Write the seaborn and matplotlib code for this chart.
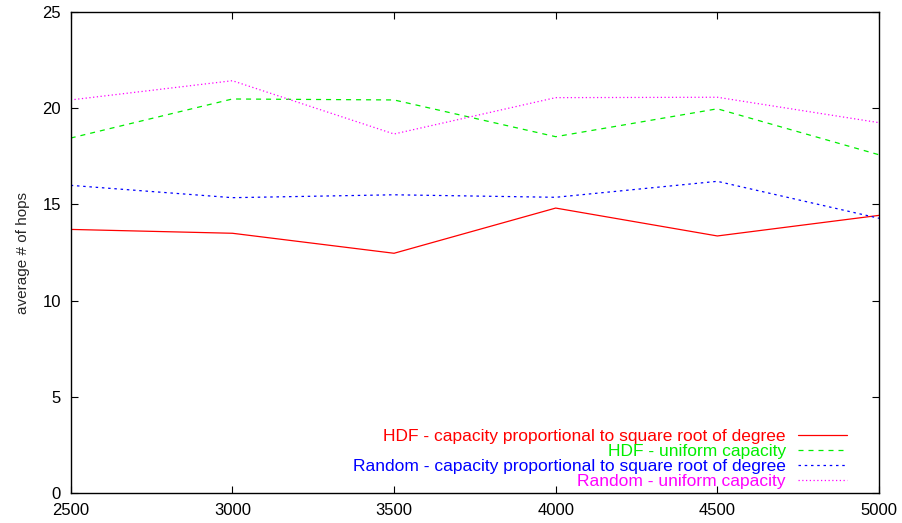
"""
Average number of hops vs network size (gnuplot-style line chart)
"""
import pandas as pd
import matplotlib
matplotlib.use('Agg')
import matplotlib.pyplot as plt
import seaborn as sns

sns.set_style('ticks')
plt.rcParams['font.family'] = ['Liberation Sans', 'DejaVu Sans']

# Data
nodes = [2500, 3000, 3500, 4000, 4500, 5000]
hdf_sqrt = [13.70, 13.50, 12.46, 14.81, 13.36, 14.43]
hdf_uniform = [18.45, 20.48, 20.43, 18.52, 19.97, 17.58]
random_sqrt = [15.99, 15.35, 15.50, 15.37, 16.20, 14.28]
random_uniform = [20.43, 21.43, 18.66, 20.55, 20.57, 19.25]

labels = [
    'HDF - capacity proportional to square root of degree',
    'HDF - uniform capacity',
    'Random - capacity proportional to square root of degree',
    'Random - uniform capacity',
]
series = [hdf_sqrt, hdf_uniform, random_sqrt, random_uniform]
colors = ['#ff0000', '#00ee00', '#0000ff', '#ff00ff']
dashes = [(None, None), (4, 4), (2, 3), (1, 2)]

df = pd.DataFrame({'nodes': nodes * 4,
                   'hops': sum(series, []),
                   'series': [l for l in labels for _ in nodes]})

fig = plt.figure(figsize=(9.02, 5.23), dpi=100)
ax = fig.add_axes([0.0784, 0.0574, 0.8961, 0.9196])

for label, color, dash in zip(labels, colors, dashes):
    sub = df[df['series'] == label]
    line = sns.lineplot(data=sub, x='nodes', y='hops', color=color, lw=0.9,
                        label=label, ax=ax).lines[-1]
    if dash[0] is not None:
        line.set_dashes(dash)

ax.set_xlim(2500, 5000)
ax.set_ylim(0, 25)
ax.set_xticks(range(2500, 5001, 500))
ax.set_yticks(range(0, 26, 5))
ax.set_xlabel('')
ax.set_ylabel('average # of hops', fontsize=11)
ax.yaxis.set_label_coords(-0.0505, 0.5)
ax.tick_params(direction='in', top=True, right=True, length=5, width=0.8,
               labelsize=12, colors='black')
ax.tick_params(axis='x', pad=7.5)
ax.tick_params(axis='y', pad=7)
for s in ax.spines.values():
    s.set_visible(True)
    s.set_color('black')
    s.set_linewidth(1.0)

leg = ax.legend(loc='lower right', bbox_to_anchor=(0.975, -0.018), frameon=False,
                markerfirst=False, fontsize=12.5, labelcolor='linecolor',
                handlelength=2.8, labelspacing=0.0, handletextpad=0.7,
                borderaxespad=0.3)

plt.savefig('out.png', dpi=100)
